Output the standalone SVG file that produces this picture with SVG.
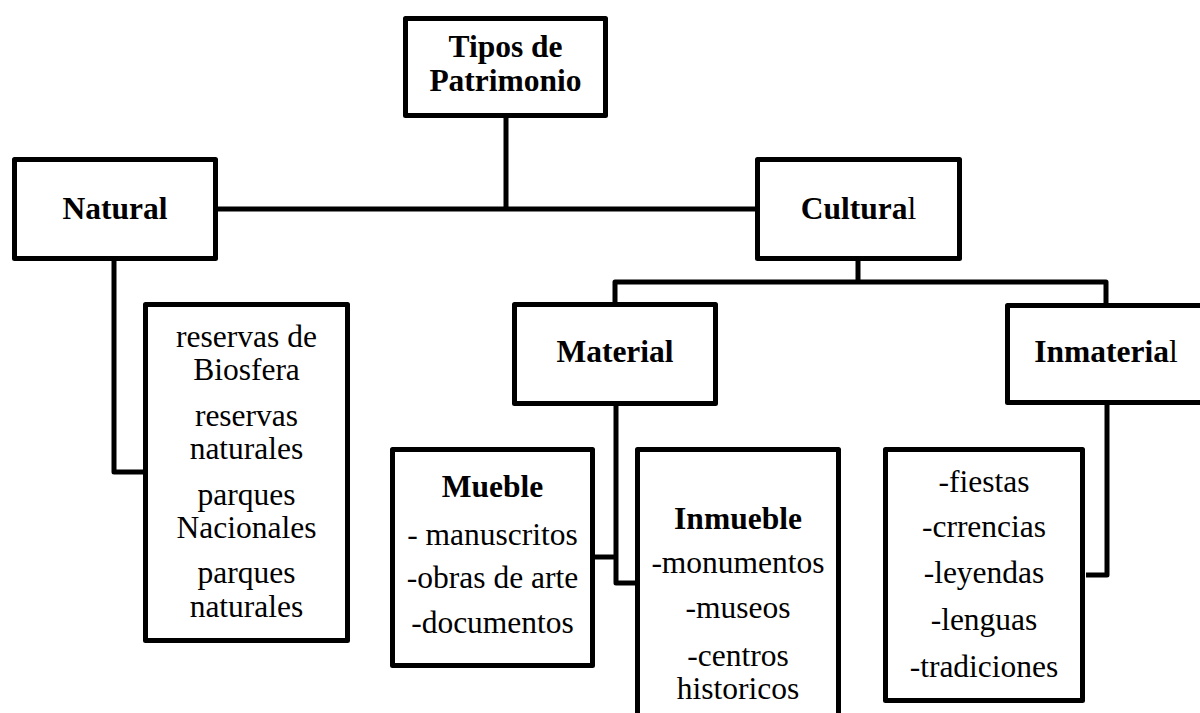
<svg xmlns="http://www.w3.org/2000/svg" width="1200" height="713" viewBox="0 0 1200 713">
<style>
  .box { fill: #ffffff; stroke: #000000; stroke-width: 5; stroke-linejoin: round; }
  .conn { fill: none; stroke: #000000; stroke-width: 5; stroke-linejoin: round; }
  text { font-family: 'Liberation Serif', 'Times New Roman', Tinos, serif; font-size: 31.5px; fill: #000000; text-anchor: middle; }
  .b { font-weight: bold; }
  .n { font-weight: normal; }
</style>
<rect width="1200" height="713" fill="#ffffff"/>
<g id="connectors">
  <path class="conn" d="M506,117 V209"/>
  <path class="conn" d="M218,209 H756"/>
  <path class="conn" d="M858,261 V282"/>
  <path class="conn" d="M615,303 V282 H1106 V304"/>
  <path class="conn" d="M114,261 V472 H144"/>
  <path class="conn" d="M616,406 V583 H636"/>
  <path class="conn" d="M594,557 H616"/>
  <path class="conn" d="M1107,405 V575 H1086"/>
</g>
<g id="tipos">
  <rect class="box" x="405.5" y="18.5" width="200" height="97"/>
  <text class="b" x="505.5" y="57">Tipos de<tspan x="505.5" y="91">Patrimonio</tspan></text>
</g>
<g id="natural">
  <rect class="box" x="14.5" y="159.5" width="201" height="99"/>
  <text class="b" x="115" y="219">Natural</text>
</g>
<g id="cultural">
  <rect class="box" x="757.5" y="159.5" width="202" height="99"/>
  <text class="b" x="858.5" y="219">Cultura<tspan class="n">l</tspan></text>
</g>
<g id="natural-list">
  <rect class="box" x="145.5" y="304.5" width="202" height="336"/>
  <text x="246.5" y="347">reservas de<tspan x="246.5" y="380">Biosfera</tspan></text>
  <text x="246.5" y="426">reservas<tspan x="246.5" y="459">naturales</tspan></text>
  <text x="246.5" y="505">parques<tspan x="246.5" y="538">Nacionales</tspan></text>
  <text x="246.5" y="583">parques<tspan x="246.5" y="617">naturales</tspan></text>
</g>
<g id="material">
  <rect class="box" x="514.5" y="304.5" width="201" height="99"/>
  <text class="b" x="615" y="362">Material</text>
</g>
<g id="inmaterial">
  <rect class="box" x="1007.5" y="305.5" width="215" height="97"/>
  <text class="b" x="1106" y="362">Inmateria<tspan class="n">l</tspan></text>
</g>
<g id="mueble">
  <rect class="box" x="392.5" y="449.5" width="200" height="216"/>
  <text class="b" x="492.5" y="497">Mueble</text>
  <text x="492.5" y="545">- manuscritos</text>
  <text x="492.5" y="588">-obras de arte</text>
  <text x="492.5" y="633">-documentos</text>
</g>
<g id="inmueble">
  <rect class="box" x="637.5" y="449.5" width="201" height="300"/>
  <text class="b" x="738" y="529">Inmueble</text>
  <text x="738" y="573">-monumentos</text>
  <text x="738" y="618">-museos</text>
  <text x="738" y="666">-centros<tspan x="738" y="699">historicos</tspan></text>
</g>
<g id="inmaterial-list">
  <rect class="box" x="885.5" y="449.5" width="197" height="251"/>
  <text x="984" y="492">-fiestas</text>
  <text x="984" y="537">-crrencias</text>
  <text x="984" y="583">-leyendas</text>
  <text x="984" y="630">-lenguas</text>
  <text x="984" y="677">-tradiciones</text>
</g>
</svg>
